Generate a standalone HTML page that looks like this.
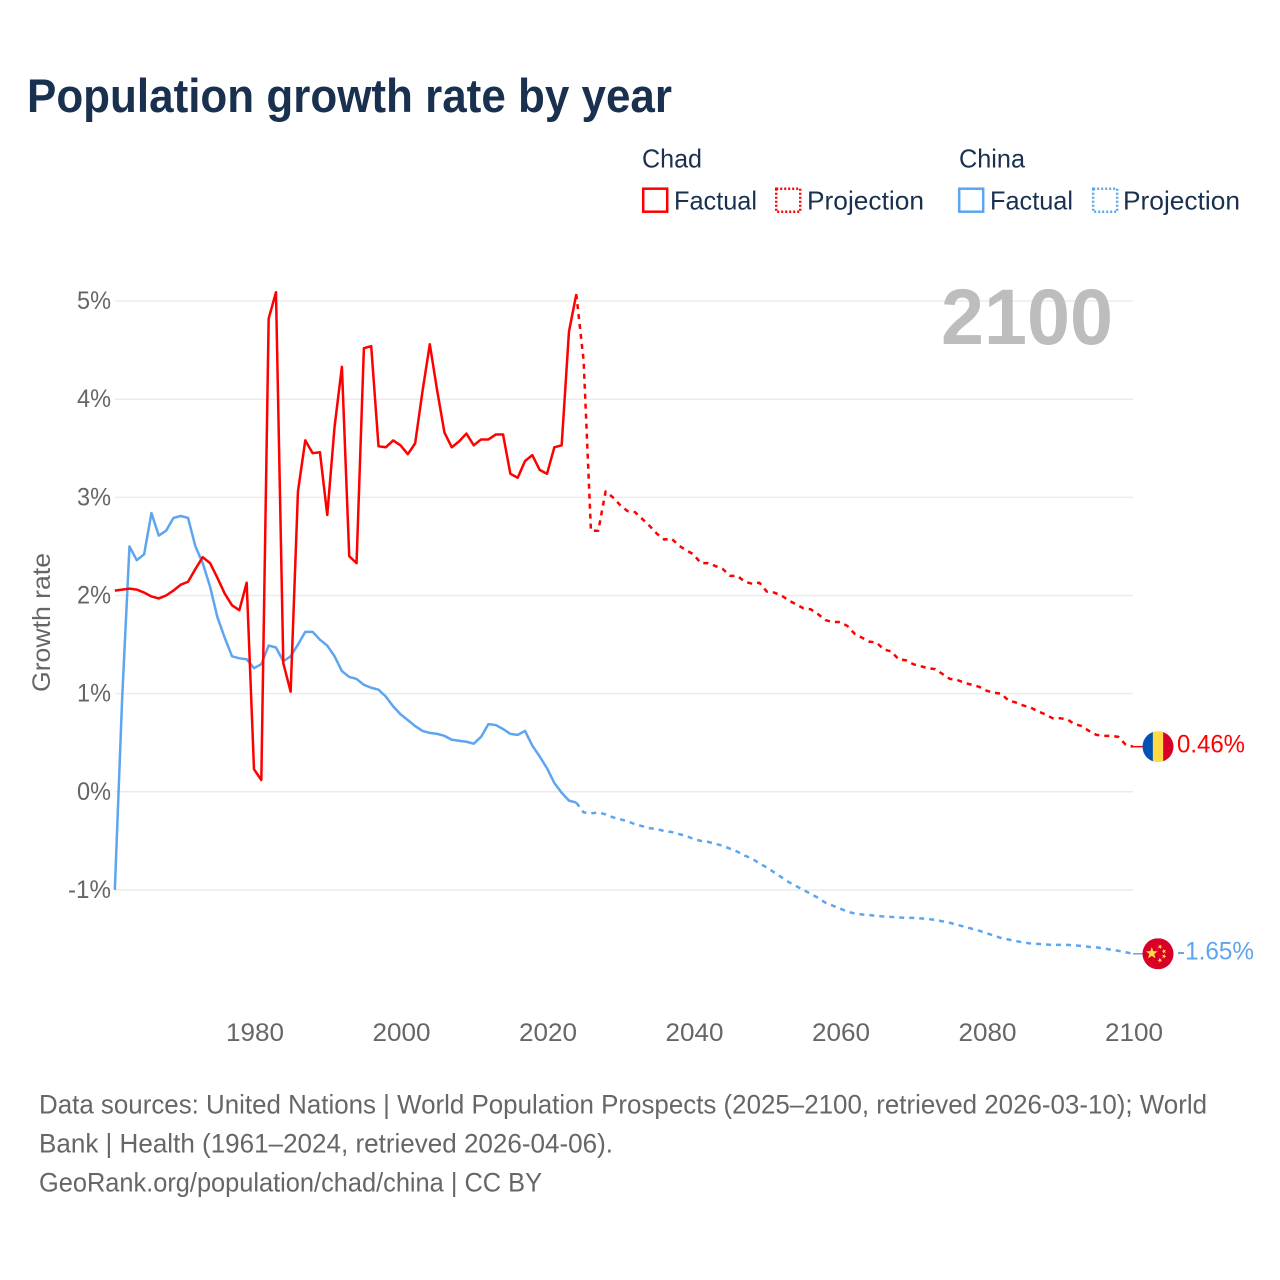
<!DOCTYPE html>
<html lang="en">
<head>
<meta charset="utf-8">
<title>Population growth rate by year</title>
<style>
html,body{margin:0;padding:0;background:#fff;width:1280px;height:1280px;overflow:hidden}
svg{display:block;font-family:"Liberation Sans",sans-serif}
</style>
</head>
<body>
<svg id="chart" xmlns="http://www.w3.org/2000/svg" width="1280" height="1280" viewBox="0 0 1280 1280">
  <rect x="0" y="0" width="1280" height="1280" fill="#ffffff"/>
  <text x="27" y="112" font-size="47" font-weight="700" fill="#19304f" textLength="645" lengthAdjust="spacingAndGlyphs">Population growth rate by year</text>

  <g font-size="26" fill="#19304f">
    <text x="642" y="167.5" textLength="60" lengthAdjust="spacingAndGlyphs">Chad</text>
    <text x="959" y="167.5" textLength="66" lengthAdjust="spacingAndGlyphs">China</text>
    <g>
      <rect x="643.2" y="188.7" width="24" height="23" fill="none" stroke="#ff0000" stroke-width="2.5"/>
      <text x="674" y="209.5" textLength="83" lengthAdjust="spacingAndGlyphs">Factual</text>
    </g>
    <g>
      <rect x="776.2" y="188.7" width="24" height="23" fill="none" stroke="#ff0000" stroke-width="2.5" stroke-dasharray="2 2"/>
      <text x="807" y="209.5" textLength="117" lengthAdjust="spacingAndGlyphs">Projection</text>
    </g>
    <g>
      <rect x="959.2" y="188.7" width="24" height="23" fill="none" stroke="#5da5ee" stroke-width="2.5"/>
      <text x="990" y="209.5" textLength="83" lengthAdjust="spacingAndGlyphs">Factual</text>
    </g>
    <g>
      <rect x="1093.2" y="188.7" width="24" height="23" fill="none" stroke="#5da5ee" stroke-width="2.5" stroke-dasharray="2 2"/>
      <text x="1123" y="209.5" textLength="117" lengthAdjust="spacingAndGlyphs">Projection</text>
    </g>
  </g>

  <g id="grid"></g>
  <g id="yticks" font-size="25" fill="#666666"></g>
  <g id="xticks" font-size="25" fill="#666666"></g>
  <text transform="translate(50,692) rotate(-90)" font-size="25" fill="#666666" textLength="139" lengthAdjust="spacingAndGlyphs">Growth rate</text>
  <text x="941" y="344" font-size="79" font-weight="700" fill="#bdbdbd" textLength="172" lengthAdjust="spacingAndGlyphs">2100</text>

  <g id="series"></g>

  <g id="end-chad"></g>
  <g id="end-china"></g>

  <g font-size="26.5" fill="#666666">
    <text x="39" y="1113.5" textLength="1168" lengthAdjust="spacingAndGlyphs">Data sources: United Nations | World Population Prospects (2025–2100, retrieved 2026-03-10); World</text>
    <text x="39" y="1152.5" textLength="574" lengthAdjust="spacingAndGlyphs">Bank | Health (1961–2024, retrieved 2026-04-06).</text>
    <text x="39" y="1191.5" textLength="503" lengthAdjust="spacingAndGlyphs">GeoRank.org/population/chad/china | CC BY</text>
  </g>
</svg>
<script>
var yTicks = [-1, 0, 1, 2, 3, 4, 5];
var xTicks = [1980, 2000, 2020, 2040, 2060, 2080, 2100];
var factualStartYear = 1961;
var projectionStartYear = 2024;

var chadFactual = [2.05,2.06,2.07,2.06,2.03,1.99,1.97,2.00,2.05,2.11,2.14,2.27,2.39,2.33,2.18,2.02,1.90,1.85,2.13,0.23,0.12,4.82,5.09,1.31,1.02,3.06,3.58,3.45,3.46,2.82,3.72,4.33,2.40,2.33,4.52,4.54,3.52,3.51,3.58,3.53,3.44,3.55,4.08,4.56,4.09,3.66,3.51,3.57,3.65,3.53,3.59,3.59,3.64,3.64,3.24,3.20,3.37,3.43,3.28,3.24,3.51,3.53,4.69,5.07];

var chadProjection = [5.07,4.39,2.66,2.66,3.06,3.00,2.92,2.86,2.85,2.78,2.71,2.63,2.57,2.58,2.51,2.46,2.42,2.33,2.33,2.30,2.27,2.20,2.20,2.14,2.12,2.13,2.04,2.03,2.00,1.95,1.91,1.87,1.86,1.81,1.75,1.73,1.73,1.69,1.61,1.57,1.53,1.52,1.45,1.43,1.35,1.34,1.30,1.28,1.26,1.25,1.20,1.15,1.14,1.11,1.09,1.07,1.03,1.01,1.00,0.93,0.91,0.88,0.86,0.82,0.79,0.75,0.75,0.74,0.69,0.67,0.62,0.58,0.57,0.57,0.56,0.48,0.46];

var chinaFactual = [-1.00,0.95,2.50,2.36,2.42,2.84,2.61,2.66,2.79,2.81,2.79,2.50,2.33,2.09,1.78,1.57,1.38,1.36,1.35,1.26,1.30,1.49,1.47,1.33,1.38,1.50,1.63,1.63,1.55,1.49,1.38,1.23,1.17,1.15,1.09,1.06,1.04,0.97,0.87,0.79,0.73,0.67,0.62,0.60,0.59,0.57,0.53,0.52,0.51,0.49,0.56,0.69,0.68,0.64,0.59,0.58,0.62,0.47,0.36,0.24,0.09,-0.01,-0.09,-0.11];

var chinaProjection = [-0.11,-0.21,-0.22,-0.21,-0.23,-0.26,-0.28,-0.30,-0.33,-0.35,-0.37,-0.38,-0.40,-0.41,-0.43,-0.45,-0.48,-0.50,-0.51,-0.53,-0.55,-0.58,-0.61,-0.65,-0.68,-0.73,-0.77,-0.82,-0.87,-0.92,-0.96,-1.00,-1.04,-1.08,-1.13,-1.16,-1.19,-1.22,-1.24,-1.25,-1.255,-1.265,-1.27,-1.275,-1.28,-1.285,-1.285,-1.29,-1.295,-1.305,-1.32,-1.335,-1.355,-1.375,-1.395,-1.415,-1.44,-1.465,-1.49,-1.505,-1.52,-1.535,-1.545,-1.55,-1.555,-1.56,-1.56,-1.56,-1.565,-1.57,-1.58,-1.585,-1.595,-1.61,-1.62,-1.635,-1.65];

var NS = 'http://www.w3.org/2000/svg';
function xScale(year) { return 254 + (year - 1980) * 7.325; }
function yScale(v) { return 791.8 - v * 98.15; }
function fmtPct(v) { return v.toFixed(2) + '%'; }

function make(tag, attrs, parent) {
  var el = document.createElementNS(NS, tag);
  for (var k in attrs) { el.setAttribute(k, attrs[k]); }
  parent.appendChild(el);
  return el;
}

var gridG = document.getElementById('grid');
var yG = document.getElementById('yticks');
var xG = document.getElementById('xticks');
var seriesG = document.getElementById('series');

yTicks.forEach(function (t) {
  var line = make('line', {x1: 115, x2: 1133, y1: yScale(t), y2: yScale(t), stroke: '#ebebeb', 'stroke-width': 1.5}, gridG);
  
  
  var label = t + '%';
  var lab = make('text', {x: 111, y: yScale(t) + 8, 'text-anchor': 'end', textLength: t < 0 ? 43 : 34, lengthAdjust: 'spacingAndGlyphs'}, yG);
  lab.textContent = label;
  
  
});

xTicks.forEach(function (t) {
  var lab = make('text', {x: xScale(t) + 1, y: 1041, 'text-anchor': 'middle', textLength: 58, lengthAdjust: 'spacingAndGlyphs'}, xG);
  lab.textContent = String(t);
  
  
});

function pathFrom(values, startYear) {
  return values.map(function (v, i) {
    return (i ? 'L' : 'M') + xScale(startYear + i).toFixed(2) + ' ' + yScale(v).toFixed(2);
  }).join(' ');
}

function drawLine(values, startYear, color, dashed) {
  var attrs = {d: pathFrom(values, startYear), fill: 'none', stroke: color, 'stroke-width': 2.5, 'stroke-linejoin': 'round'};
  if (dashed) { attrs['stroke-dasharray'] = '5 5'; }
  return make('path', attrs, seriesG);
}

var p1 = drawLine(chinaFactual, factualStartYear, '#5da5ee', false);


var p2 = drawLine(chinaProjection, projectionStartYear, '#5da5ee', true);


var p3 = drawLine(chadFactual, factualStartYear, '#ff0000', false);


var p4 = drawLine(chadProjection, projectionStartYear, '#ff0000', true);



var flagX = 1158;
var flagR = 15.5;

function endMarker(groupId, clipId, value, color, labelWidth) {
  var g = document.getElementById(groupId);
  var cy = yScale(value);
  var conn = make('line', {x1: xScale(2100), x2: flagX - flagR, y1: cy, y2: cy, stroke: color, 'stroke-width': 1.5}, g);
  
  
  var clip = make('clipPath', {id: clipId}, g);
  make('circle', {cx: flagX, cy: cy, r: flagR}, clip);
  var flag = make('g', {'clip-path': 'url(#' + clipId + ')'}, g);
  
  
  var lab = make('text', {x: 1177, y: cy + 6, 'font-size': 25, fill: color, textLength: labelWidth, lengthAdjust: 'spacingAndGlyphs'}, g);
  lab.textContent = fmtPct(value);
  
  
  return {flag: flag, cy: cy};
}

function star(cx, cy, r, rot) {
  var pts = [];
  for (var i = 0; i < 10; i++) {
    var rr = i % 2 ? r * 0.42 : r;
    var a = rot + i * Math.PI / 5 - Math.PI / 2;
    pts.push((cx + rr * Math.cos(a)).toFixed(2) + ',' + (cy + rr * Math.sin(a)).toFixed(2));
  }
  return pts.join(' ');
}

var chadEnd = endMarker('end-chad', 'clip-chad', chadProjection[chadProjection.length - 1], '#ff0000', 68);
make('rect', {x: flagX - flagR, y: chadEnd.cy - flagR, width: flagR * 2 / 3 + 0.5, height: flagR * 2, fill: '#0052b4'}, chadEnd.flag);
make('rect', {x: flagX - flagR / 3, y: chadEnd.cy - flagR, width: flagR * 2 / 3 + 0.5, height: flagR * 2, fill: '#ffda44'}, chadEnd.flag);
make('rect', {x: flagX + flagR / 3, y: chadEnd.cy - flagR, width: flagR * 2 / 3, height: flagR * 2, fill: '#d80027'}, chadEnd.flag);

var chinaEnd = endMarker('end-china', 'clip-china', chinaProjection[chinaProjection.length - 1], '#5da5ee', 77);
make('rect', {x: flagX - flagR, y: chinaEnd.cy - flagR, width: flagR * 2, height: flagR * 2, fill: '#d80027'}, chinaEnd.flag);
make('polygon', {points: star(flagX - 6.2, chinaEnd.cy - 0.5, 6.2, 0), fill: '#ffda44'}, chinaEnd.flag);
make('polygon', {points: star(flagX + 2, chinaEnd.cy - 7, 2.5, 0.5), fill: '#ffda44'}, chinaEnd.flag);
make('polygon', {points: star(flagX + 6, chinaEnd.cy - 2.5, 2.5, 1), fill: '#ffda44'}, chinaEnd.flag);
make('polygon', {points: star(flagX + 6, chinaEnd.cy + 2.5, 2.5, 0.3), fill: '#ffda44'}, chinaEnd.flag);
make('polygon', {points: star(flagX + 2, chinaEnd.cy + 6.5, 2.5, 0.8), fill: '#ffda44'}, chinaEnd.flag);
</script>
</body>
</html>
